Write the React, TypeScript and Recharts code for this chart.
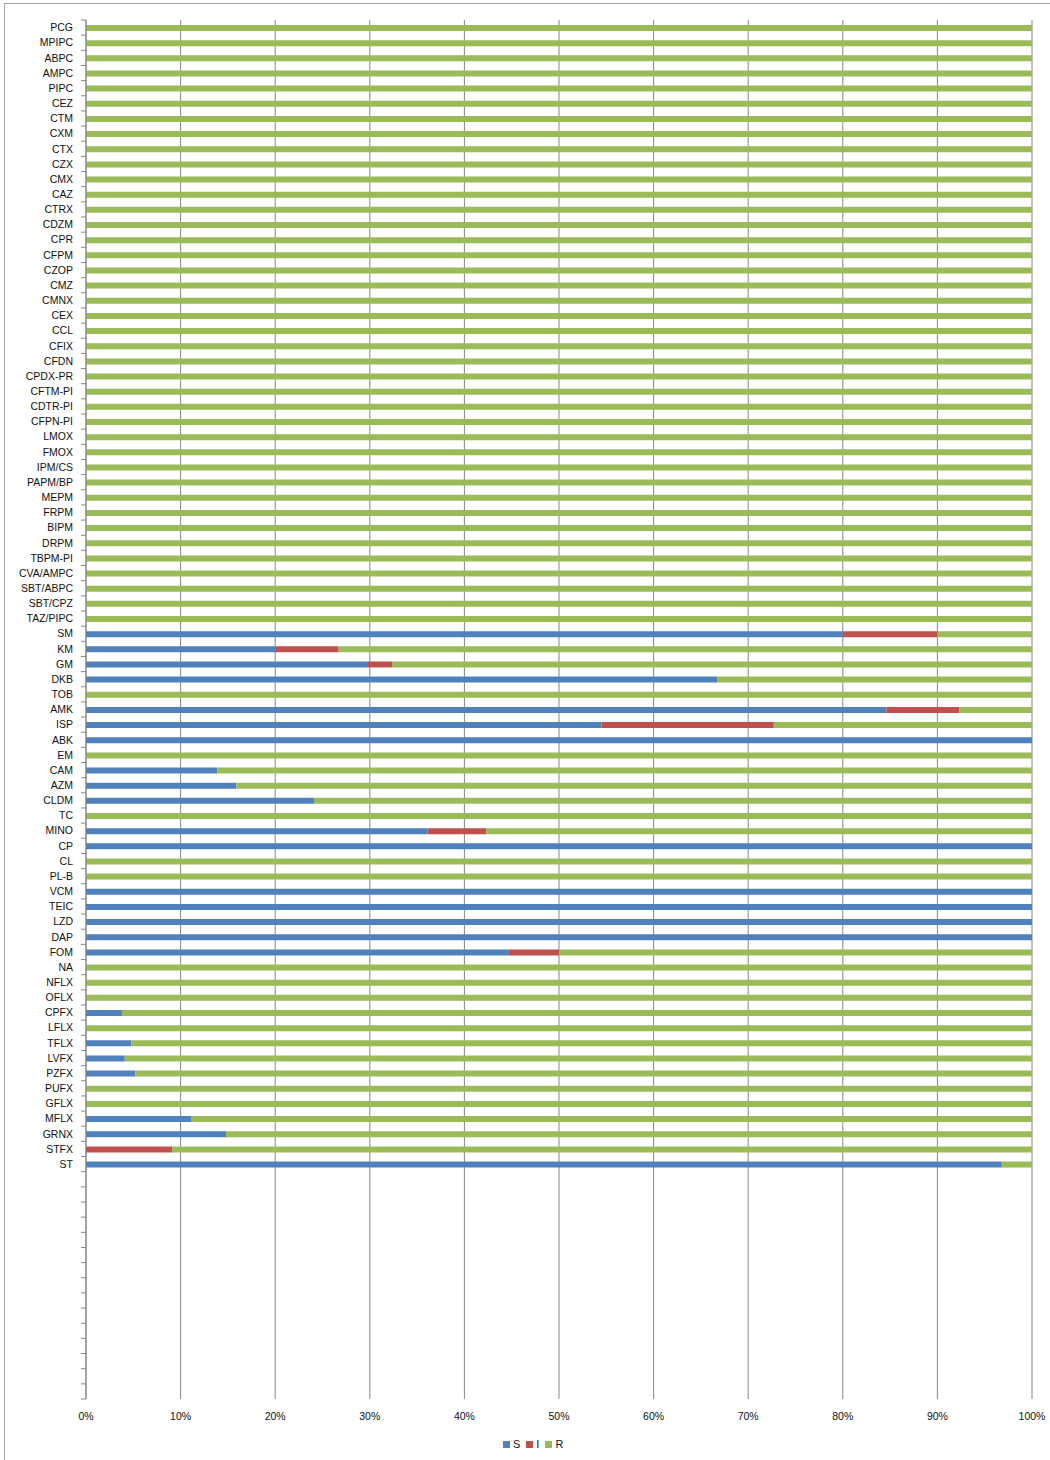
import { BarChart, Bar, XAxis, YAxis, CartesianGrid } from "recharts";

const CATEGORIES = [
  "PCG", "MPIPC", "ABPC", "AMPC", "PIPC", "CEZ", "CTM", "CXM", "CTX", "CZX",
  "CMX", "CAZ", "CTRX", "CDZM", "CPR", "CFPM", "CZOP", "CMZ", "CMNX", "CEX",
  "CCL", "CFIX", "CFDN", "CPDX-PR", "CFTM-PI", "CDTR-PI", "CFPN-PI", "LMOX", "FMOX", "IPM/CS",
  "PAPM/BP", "MEPM", "FRPM", "BIPM", "DRPM", "TBPM-PI", "CVA/AMPC", "SBT/ABPC", "SBT/CPZ", "TAZ/PIPC",
  "SM", "KM", "GM", "DKB", "TOB", "AMK", "ISP", "ABK", "EM", "CAM",
  "AZM", "CLDM", "TC", "MINO", "CP", "CL", "PL-B", "VCM", "TEIC", "LZD",
  "DAP", "FOM", "NA", "NFLX", "OFLX", "CPFX", "LFLX", "TFLX", "LVFX", "PZFX",
  "PUFX", "GFLX", "MFLX", "GRNX", "STFX", "ST",
];

// percentages per category (S + I + R = 100)
const S_VALUES = [
  0, 0, 0, 0, 0, 0, 0, 0, 0, 0,
  0, 0, 0, 0, 0, 0, 0, 0, 0, 0,
  0, 0, 0, 0, 0, 0, 0, 0, 0, 0,
  0, 0, 0, 0, 0, 0, 0, 0, 0, 0,
  80, 20, 29.7, 66.7, 0, 84.6, 54.5, 100, 0, 13.9,
  15.9, 24.1, 0, 36.1, 100, 0, 0, 100, 100, 100,
  100, 44.7, 0, 0, 0, 3.8, 0, 4.8, 4.1, 5.2,
  0, 0, 11.1, 14.8, 0, 96.8,
];

const I_VALUES = [
  0, 0, 0, 0, 0, 0, 0, 0, 0, 0,
  0, 0, 0, 0, 0, 0, 0, 0, 0, 0,
  0, 0, 0, 0, 0, 0, 0, 0, 0, 0,
  0, 0, 0, 0, 0, 0, 0, 0, 0, 0,
  10, 6.7, 2.7, 0, 0, 7.7, 18.2, 0, 0, 0,
  0, 0, 0, 6.2, 0, 0, 0, 0, 0, 0,
  0, 5.3, 0, 0, 0, 0, 0, 0, 0, 0,
  0, 0, 0, 0, 9.1, 0,
];

const R_VALUES = [
  100, 100, 100, 100, 100, 100, 100, 100, 100, 100,
  100, 100, 100, 100, 100, 100, 100, 100, 100, 100,
  100, 100, 100, 100, 100, 100, 100, 100, 100, 100,
  100, 100, 100, 100, 100, 100, 100, 100, 100, 100,
  10, 73.3, 67.6, 33.3, 100, 7.7, 27.3, 0, 100, 86.1,
  84.1, 75.9, 100, 57.7, 0, 100, 100, 0, 0, 0,
  0, 50, 100, 100, 100, 96.2, 100, 95.2, 95.9, 94.8,
  100, 100, 88.9, 85.2, 90.9, 3.2,
];

// empty rows left below the last category
const BLANK_ROWS = 15;

const X_TICKS = [0, 10, 20, 30, 40, 50, 60, 70, 80, 90, 100];

const SERIES = [
  { key: "S", color: "#4F81BD" },
  { key: "I", color: "#C0504D" },
  { key: "R", color: "#9BBB59" },
];

const data = [
  ...CATEGORIES.map((name, i) => ({
    name,
    S: S_VALUES[i],
    I: I_VALUES[i],
    R: R_VALUES[i],
  })),
  ...Array.from({ length: BLANK_ROWS }, (_, k) => ({
    name: `blank-${k}`,
    S: 0,
    I: 0,
    R: 0,
  })),
];

const FONT = "'Liberation Sans', Arial, sans-serif";
const WIDTH = 1050;
const HEIGHT = 1460;
const MARGIN = { top: 20, right: 18, bottom: 31, left: 0 };
const X_AXIS_HEIGHT = 30;
const Y_AXIS_WIDTH = 86;
const PLOT_HEIGHT = HEIGHT - MARGIN.top - MARGIN.bottom - X_AXIS_HEIGHT;
const BAND = PLOT_HEIGHT / data.length;
const AXIS_COLOR = "#878787";

function CategoryTick({ x, y, payload, index }: any) {
  const label = String(payload.value).startsWith("blank-") ? "" : payload.value;
  const ax = Y_AXIS_WIDTH;
  return (
    <g>
      {index === 0 && (
        <line x1={ax - 5} x2={ax} y1={y - BAND / 2} y2={y - BAND / 2} stroke={AXIS_COLOR} />
      )}
      <line x1={ax - 5} x2={ax} y1={y + BAND / 2} y2={y + BAND / 2} stroke={AXIS_COLOR} />
      <text
        x={x}
        y={y}
        dy="0.355em"
        textAnchor="end"
        fontSize={10.5}
        fontFamily={FONT}
        fill="#111"
      >
        {label}
      </text>
    </g>
  );
}

export default function App() {
  return (
    <div
      style={{
        position: "absolute",
        left: 0,
        top: 0,
        width: WIDTH,
        height: HEIGHT,
        background: "#fff",
        overflow: "hidden",
      }}
    >
      <div
        style={{
          position: "absolute",
          left: 4,
          top: 3,
          width: WIDTH - 4,
          height: HEIGHT - 3,
          borderLeft: "1px solid #a6a6a6",
          borderTop: "1px solid #a6a6a6",
          boxSizing: "border-box",
        }}
      />
      <div style={{ position: "absolute", left: 0, top: 0 }}>
        <BarChart
          width={WIDTH}
          height={HEIGHT}
          data={data}
          layout="vertical"
          margin={MARGIN}
          barSize={6}
        >
          <CartesianGrid horizontal={false} stroke={AXIS_COLOR} />
          <XAxis
            type="number"
            domain={[0, 100]}
            ticks={X_TICKS}
            tickFormatter={(v) => `${v}%`}
            axisLine={false}
            tickLine={false}
            tickSize={0}
            tickMargin={14}
            height={X_AXIS_HEIGHT}
            tick={{ fontSize: 10.5, fill: "#111", fontFamily: FONT }}
          />
          <YAxis
            type="category"
            dataKey="name"
            width={Y_AXIS_WIDTH}
            interval={0}
            tickLine={false}
            tickSize={5}
            tickMargin={8}
            axisLine={{ stroke: AXIS_COLOR }}
            tick={<CategoryTick />}
          />
          {SERIES.map((s) => (
            <Bar
              key={s.key}
              dataKey={s.key}
              stackId="sir"
              fill={s.color}
              isAnimationActive={false}
            />
          ))}
        </BarChart>
      </div>
      <div
        style={{
          position: "absolute",
          top: 1438,
          left: 503,
          display: "flex",
          alignItems: "center",
          fontFamily: FONT,
          fontSize: 11,
          color: "#111",
        }}
      >
        {SERIES.map((s) => (
          <div key={s.key} style={{ display: "flex", alignItems: "center", marginRight: 6 }}>
            <span
              style={{
                display: "inline-block",
                width: 7,
                height: 7,
                background: s.color,
                marginRight: 3,
              }}
            />
            <span>{s.key}</span>
          </div>
        ))}
      </div>
    </div>
  );
}
